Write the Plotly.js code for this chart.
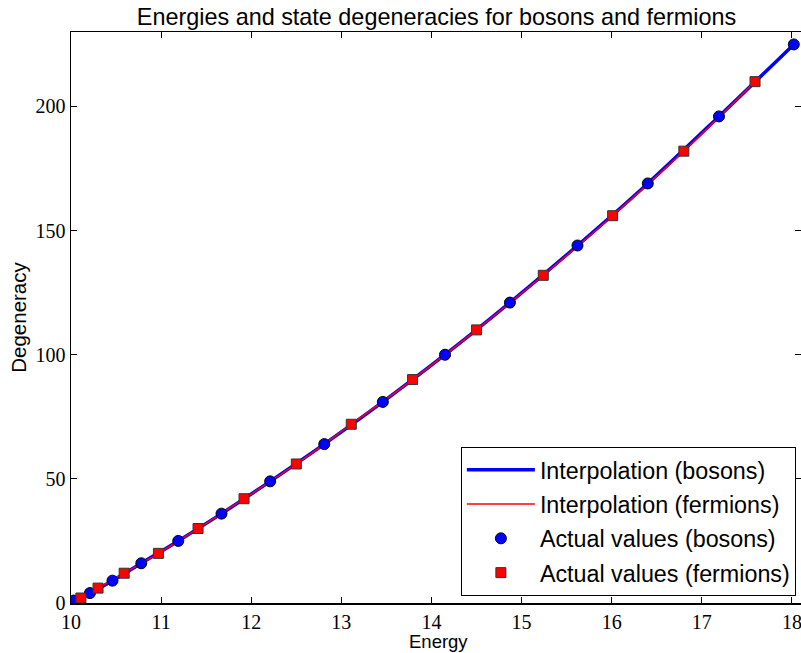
<!DOCTYPE html>
<html>
<head>
<meta charset="utf-8">
<script src="https://cdn.plot.ly/plotly-3.0.1.min.js"></script>
<style>html,body{margin:0;padding:0;background:#fff;}#chart{width:801px;height:653px;}</style>
</head>
<body>
<div id="chart"></div>
<script>
const bosonEnergy = [10.03, 10.21, 10.46, 10.78, 11.19, 11.67, 12.21, 12.81, 13.46, 14.15, 14.87, 15.62, 16.40, 17.19, 18.02];
const bosonDeg    = [1, 4, 9, 16, 25, 36, 49, 64, 81, 100, 121, 144, 169, 196, 225];
const fermionEnergy = [10.11, 10.30, 10.59, 10.97, 11.41, 11.92, 12.50, 13.11, 13.79, 14.50, 15.24, 16.01, 16.80, 17.59];
const fermionDeg    = [2, 6, 12, 20, 30, 42, 56, 72, 90, 110, 132, 156, 182, 210];
const xTicks = [10, 11, 12, 13, 14, 15, 16, 17, 18];
const yTicks = [0, 50, 100, 150, 200];

const sans = 'Liberation Sans, Arial, sans-serif';
const serif = 'Liberation Serif, Times New Roman, serif';

const traces = [
  {x: bosonEnergy, y: bosonDeg, mode: 'lines', name: 'Interpolation (bosons)', legendgroup: 'a',
   line: {color: '#0000ff', width: 3.5, shape: 'spline'}},
  {x: fermionEnergy, y: fermionDeg, mode: 'lines', name: 'Interpolation (fermions)', legendgroup: 'b',
   line: {color: '#ff0000', width: 1.5, shape: 'spline'}},
  {x: bosonEnergy, y: bosonDeg, mode: 'markers', name: 'Actual values (bosons)', legendgroup: 'c',
   marker: {symbol: 'circle', size: 11, color: '#0000ff', line: {color: '#000000', width: 1}}},
  {x: fermionEnergy, y: fermionDeg, mode: 'markers', name: 'Actual values (fermions)', legendgroup: 'd',
   marker: {symbol: 'square', size: 10, color: '#ff0000', line: {color: '#333333', width: 1}}}
];

const axisCommon = {
  showgrid: false, zeroline: false, showline: true, linecolor: '#000', linewidth: 1.5,
  mirror: 'ticks', ticks: 'inside', ticklen: 6, tickwidth: 1, tickcolor: '#000',
  tickfont: {family: serif, size: 20, color: '#000'}, ticklabeloverflow: 'allow'
};

const layout = {
  width: 801, height: 653,
  margin: {l: 71, r: 0, t: 32, b: 50},
  paper_bgcolor: '#fff', plot_bgcolor: '#fff',
  title: {text: 'Energies and state degeneracies for bosons and fermions',
          font: {family: sans, size: 23.4, color: '#000'},
          x: 0.545, xanchor: 'center', y: 0.975, yanchor: 'middle', yref: 'container'},
  xaxis: Object.assign({}, axisCommon, {
    range: [10, 18.1], tickvals: xTicks, ticktext: xTicks.map(String), ticklabelstandoff: 0
  }),
  yaxis: Object.assign({}, axisCommon, {
    range: [0, 230], tickvals: yTicks, ticktext: yTicks.map(String),
    title: {text: 'Degeneracy', font: {family: sans, size: 20.5, color: '#000'}, standoff: 3}
  }),
  annotations: [
    {text: 'Energy', xref: 'paper', yref: 'paper', x: 0.503, y: -0.0675,
     xanchor: 'center', yanchor: 'middle', showarrow: false,
     font: {family: sans, size: 18.5, color: '#000'}}
  ],
  showlegend: true,
  legend: {
    x: 0.993, xanchor: 'right', y: 0.273, yanchor: 'top',
    bgcolor: '#fff', bordercolor: '#000', borderwidth: 1,
    font: {family: sans, size: 23.3, color: '#000'},
    traceorder: 'grouped', tracegroupgap: 1, itemwidth: 68
  }
};

Plotly.newPlot('chart', traces, layout, {displayModeBar: false, staticPlot: true});
</script>
</body>
</html>
